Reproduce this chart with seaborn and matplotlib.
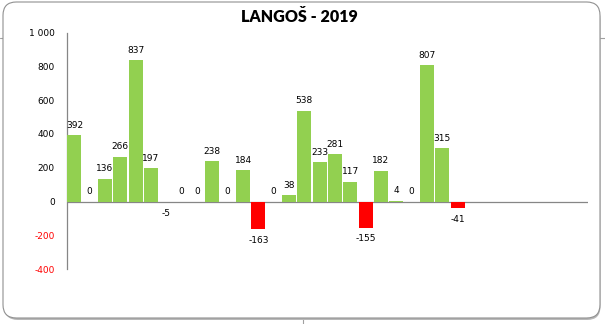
import numpy as np
import pandas as pd
import matplotlib
matplotlib.use("Agg")
import matplotlib.pyplot as plt
import seaborn as sns
from matplotlib.patches import FancyBboxPatch
from matplotlib.lines import Line2D

# ---- data ----
categories = [str(i) for i in range(1, 35)]
values = [392, 0, 136, 266, 837, 197, -5, 0, 0, 238, 0, 184, -163, 0, 38,
          538, 233, 281, 117, -155, 182, 4, 0, 807, 315, -41] + [np.nan] * 8
y_ticks = [-400, -200, 0, 200, 400, 600, 800, 1000]
y_tick_labels = ["-400", "-200", "0", "200", "400", "600", "800", "1 000"]
title = "LANGOŠ - 2019"

GREEN = "#92D050"
RED = "#FF0000"
BAR_W = 0.91

sns.set_theme(style="white")
plt.rcParams["font.family"] = ["DejaVu Sans"]
plt.rcParams["text.color"] = "black"

df = pd.DataFrame({"cat": categories, "val": values})
df["sign"] = np.where(df["val"] < 0, "neg", "pos")

fig = plt.figure(figsize=(6.05, 3.24), dpi=100)
W, H = 605, 324

# chart frame (rounded with shadow)
shadow = FancyBboxPatch((4.5 / W, 4 / H), 596 / W, 314 / H,
                        boxstyle="round,pad=0,rounding_size=0.022",
                        transform=fig.transFigure, facecolor="#b8b8b8",
                        edgecolor="none", zorder=0, mutation_aspect=W / H)
fig.patches.append(shadow)
frame = FancyBboxPatch((3 / W, 6 / H), 597 / W, 316 / H,
                       boxstyle="round,pad=0,rounding_size=0.022",
                       transform=fig.transFigure, facecolor="white",
                       edgecolor="#909090", linewidth=0.8, zorder=1,
                       mutation_aspect=W / H)
fig.patches.append(frame)
# spreadsheet gridlines peeking outside the frame
for (x0, y0, x1, y1) in [(0, 38, 3, 38), (600, 38, 605, 38), (303, 318, 303, 324)]:
    fig.add_artist(Line2D([x0 / W, x1 / W], [1 - y0 / H, 1 - y1 / H],
                          transform=fig.transFigure, color="#a0a0a0", lw=0.8, zorder=0))

ax = fig.add_axes([66.7 / W, 1 - 269.1 / H, (588 - 66.7) / W, (269.1 - 32.5) / H])
ax.set_zorder(2)
ax.patch.set_alpha(0)

sns.barplot(data=df, x="cat", y="val", hue="sign", order=categories,
            palette={"pos": GREEN, "neg": RED}, width=BAR_W, legend=False,
            dodge=False, ax=ax, saturation=1, err_kws={"linewidth": 0})

# make every bar fill its slot like the reference
for p in ax.patches:
    cx = p.get_x() + p.get_width() / 2
    p.set_width(BAR_W)
    p.set_x(round(cx) - BAR_W / 2)
    p.set_linewidth(0)
    p.set_zorder(3)

ax.set_ylim(-400, 1000)
ax.set_xlim(-0.5, len(categories) - 0.5)
ax.set_yticks(y_ticks)
ax.set_yticklabels(y_tick_labels)
for lbl, v in zip(ax.get_yticklabels(), y_ticks):
    lbl.set_color(RED if v < 0 else "black")
    lbl.set_fontsize(6.5)
ax.tick_params(axis="y", length=0, pad=8.5)
ax.set_xticks([])
ax.set_xlabel("")
ax.set_ylabel("")
for s in ["top", "right", "bottom"]:
    ax.spines[s].set_visible(False)
ax.spines["left"].set_color("#868686")
ax.spines["left"].set_linewidth(0.9)
ax.axhline(0, color="#868686", lw=0.9, zorder=2)

for i, v in enumerate(values):
    if v is None or (isinstance(v, float) and np.isnan(v)):
        continue
    if v >= 0:
        ax.annotate(f"{int(v)}", (i, v), xytext=(0, 10), textcoords="offset pixels",
                    ha="center", va="center", fontsize=6.5, color="black")
    else:
        ax.annotate(f"{int(v)}", (i, v), xytext=(0, -11), textcoords="offset pixels",
                    ha="center", va="center", fontsize=6.5, color="black")

fig.text(299 / W, 1 - 17 / H, title, ha="center", va="center", color="black",
         fontsize=11.5, fontweight="heavy", family=["Lato", "DejaVu Sans"])

fig.savefig("out.png", dpi=100)
